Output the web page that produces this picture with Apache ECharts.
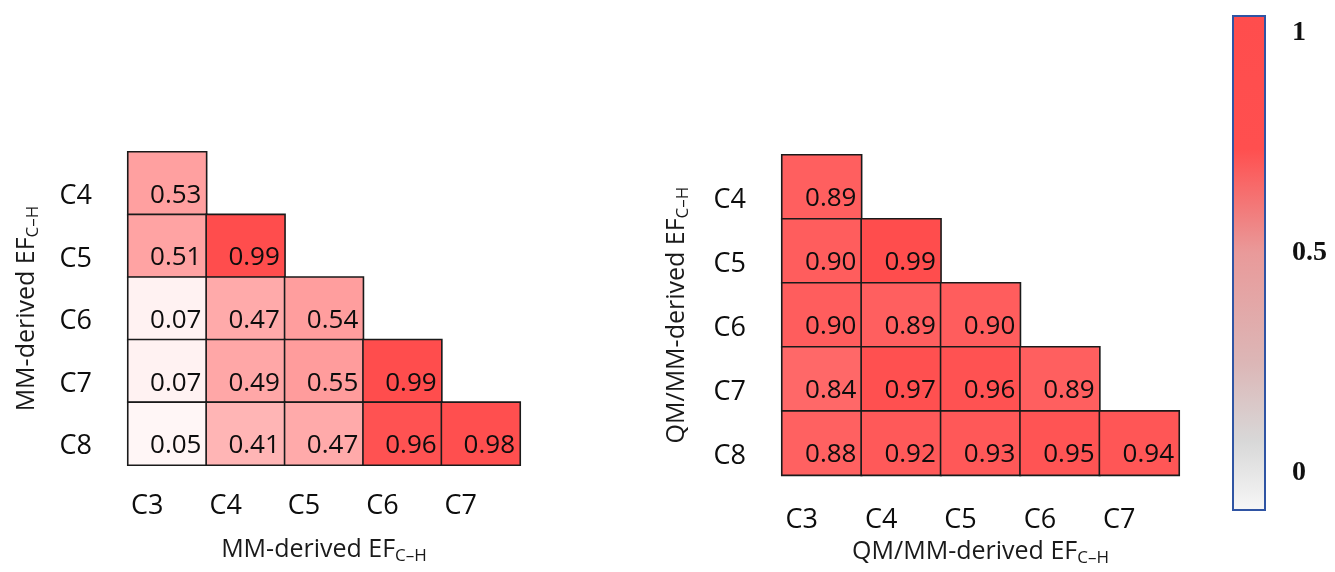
<!DOCTYPE html>
<html>
<head>
<meta charset="utf-8">
<title>EF C–H correlation heatmaps</title>
<script src="https://cdn.jsdelivr.net/npm/echarts@6/dist/echarts.min.js"></script>
<style>
  html, body { margin: 0; padding: 0; background: #ffffff; }
  #chart { width: 1335px; height: 572px; }
</style>
</head>
<body>
<div id="chart"></div>
<script>
// Column (x) and row (y) categories shared by both triangles
const xCategories = ['C3', 'C4', 'C5', 'C6', 'C7'];
const yCategories = ['C4', 'C5', 'C6', 'C7', 'C8'];

// Lower-triangular correlation values, one row per y category (C4..C8)
const mmValues = [
  [0.53],
  [0.51, 0.99],
  [0.07, 0.47, 0.54],
  [0.07, 0.49, 0.55, 0.99],
  [0.05, 0.41, 0.47, 0.96, 0.98]
];
const qmmmValues = [
  [0.89],
  [0.90, 0.99],
  [0.90, 0.89, 0.90],
  [0.84, 0.97, 0.96, 0.89],
  [0.88, 0.92, 0.93, 0.95, 0.94]
];

// Colour bar ticks
const colorbarTicks = [0, 0.5, 1];

const FONT = 'Open Sans';
const TEXT = '#0d0d0d';

function toTriples(rows) {
  const out = [];
  rows.forEach((row, yi) => row.forEach((v, xi) => out.push([xi, yi, v])));
  return out;
}

function nameRich(main) {
  return '{m|' + main + '}{s|C\u2013H}';
}
const richName = {
  m: { fontFamily: FONT, fontSize: 25, color: '#1a1a1a' },
  s: { fontFamily: FONT, fontSize: 17, color: '#1a1a1a', padding: [14, 0, 0, 0] }
};

function catX(gridIndex, margin, nameGap) {
  return {
    type: 'category', gridIndex, data: xCategories, position: 'bottom',
    axisLine: { show: false }, axisTick: { show: false }, splitLine: { show: false },
    axisLabel: { fontFamily: FONT, fontSize: 27, color: TEXT, margin, padding: [0, 40, 0, 0] },
    name: nameRich(gridIndex === 0 ? 'MM-derived EF' : 'QM/MM-derived EF'),
    nameLocation: 'middle', nameGap,
    nameTextStyle: { rich: richName }
  };
}
function catY(gridIndex, nameGap) {
  return {
    type: 'category', gridIndex, data: yCategories, inverse: true,
    axisLine: { show: false }, axisTick: { show: false }, splitLine: { show: false },
    axisLabel: {
      fontFamily: FONT, fontSize: 27, color: TEXT, margin: 36,
      verticalAlign: 'top', lineHeight: 26
    },
    name: nameRich(gridIndex === 0 ? 'MM-derived EF' : 'QM/MM-derived EF'),
    nameLocation: 'middle', nameGap, nameRotate: 90,
    nameTextStyle: { rich: richName }
  };
}

function heat(gridIndex, rows) {
  return {
    type: 'heatmap', xAxisIndex: gridIndex, yAxisIndex: gridIndex,
    data: toTriples(rows),
    itemStyle: { borderColor: '#1a1a1a', borderWidth: 1.6 },
    label: {
      show: true, position: 'insideRight', distance: 6, offset: [0, 12],
      fontFamily: FONT, fontSize: 26, color: TEXT,
      formatter: p => p.value[2].toFixed(2)
    },
    emphasis: { disabled: true }
  };
}

const chart = echarts.init(document.getElementById('chart'), null, { renderer: 'canvas' });

chart.setOption({
  backgroundColor: '#ffffff',
  animation: false,
  grid: [
    { left: 128, top: 152, width: 392, height: 313 },
    { left: 782, top: 155, width: 397, height: 321 },
    {
      left: 1233, top: 16, width: 32, height: 494, show: true,
      borderColor: '#2f54a3', borderWidth: 2,
      backgroundColor: new echarts.graphic.LinearGradient(0, 0, 0, 1, [
        { offset: 0, color: '#ff4d4d' },
        { offset: 0.27, color: '#ff4f4f' },
        { offset: 0.48, color: '#e99a9a' },
        { offset: 0.70, color: '#dcb6b6' },
        { offset: 0.86, color: '#d8d8d8' },
        { offset: 1, color: '#f7f7f7' }
      ])
    }
  ],
  xAxis: [
    catX(0, 28, 69),
    catX(1, 32, 54),
    { type: 'value', gridIndex: 2, min: 0, max: 1, show: false }
  ],
  yAxis: [
    catY(0, 86),
    catY(1, 90),
    {
      type: 'value', gridIndex: 2, position: 'right', min: -0.084, max: 1.039,
      axisLine: { show: false }, axisTick: { show: false }, splitLine: { show: false },
      axisLabel: {
        customValues: colorbarTicks, margin: 27,
        fontFamily: 'Liberation Serif', fontWeight: 'bold', fontSize: 28, color: '#111',
        formatter: v => String(v)
      }
    }
  ],
  visualMap: {
    show: false, type: 'continuous', min: 0, max: 1, seriesIndex: [0, 1], dimension: 2,
    inRange: { color: ['#ffffff', '#ff4b4b'] }
  },
  series: [
    heat(0, mmValues),
    heat(1, qmmmValues)
  ]
});
</script>
</body>
</html>
